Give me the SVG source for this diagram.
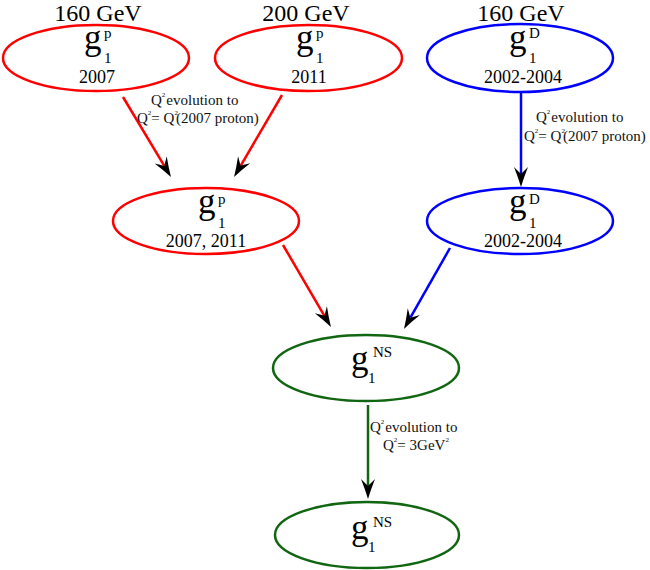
<svg xmlns="http://www.w3.org/2000/svg" width="650" height="570" viewBox="0 0 650 570">
<defs>
<style>
text{font-family:"Liberation Serif","Times New Roman",serif;fill:#000}
.title{font-size:24px;text-anchor:middle}
.g{font-size:35px}
.s{font-size:15px}
.yr{font-size:18px;text-anchor:middle}
.lab{font-size:15px;fill:#111}
.sq{font-size:7px}
ellipse{fill:#fff;stroke-width:2.5}
.red{stroke:#ff0000}
.blue{stroke:#0000ff}
.green{stroke:#116611}
line{stroke-width:2.5}
</style>
<marker id="ah" viewBox="0 -8 21 16" refX="7" refY="0" markerWidth="21" markerHeight="16" markerUnits="userSpaceOnUse" orient="auto">
<path d="M20,0 Q10,-3 0,-7 Q4,-3 7,0 Q4,3 0,7 Q10,3 20,0 Z" fill="#000"/>
</marker>
</defs>
<rect width="650" height="570" fill="#fff"/>

<g id="connectors">
<line class="red" x1="123" y1="97" x2="164.3" y2="165.9" marker-end="url(#ah)"/>
<line class="red" x1="282" y1="95" x2="240.6" y2="165.8" marker-end="url(#ah)"/>
<line class="blue" x1="521" y1="93" x2="521" y2="174" marker-end="url(#ah)"/>
<line class="red" x1="283" y1="245" x2="324.4" y2="315.8" marker-end="url(#ah)"/>
<line class="blue" x1="450" y1="248" x2="410.4" y2="317.7" marker-end="url(#ah)"/>
<line class="green" x1="368" y1="405" x2="368" y2="486" marker-end="url(#ah)"/>
<text class="lab" x="151" y="105">Q<tspan class="sq" dy="-8">2</tspan><tspan dx="1" dy="8">evolution to</tspan></text>
<text class="lab" x="137" y="123">Q<tspan class="sq" dy="-8">2</tspan><tspan dy="8">= Q</tspan><tspan class="sq" dy="-8">2</tspan><tspan dx="-2" dy="8">(2007 proton)</tspan></text>
<text class="lab" x="536" y="122">Q<tspan class="sq" dy="-8">2</tspan><tspan dx="1" dy="8">evolution to</tspan></text>
<text class="lab" x="524" y="141">Q<tspan class="sq" dy="-8">2</tspan><tspan dy="8">= Q</tspan><tspan class="sq" dy="-8">2</tspan><tspan dx="-2" dy="8">(2007 proton)</tspan></text>
<text class="lab" x="370" y="432">Q<tspan class="sq" dy="-8">2</tspan><tspan dx="1" dy="8">evolution to</tspan></text>
<text class="lab" x="383" y="450">Q<tspan class="sq" dy="-8">2</tspan><tspan dy="8">= 3GeV</tspan><tspan class="sq" dy="-8">2</tspan></text>
</g>

<g id="node-p2007">
<text class="title" x="98" y="21">160 GeV</text>
<ellipse class="red" cx="96" cy="58" rx="93" ry="33"/>
<text class="g" x="84" y="49">g</text>
<text class="s" x="104" y="38">p</text>
<text class="s" x="104" y="63">1</text>
<text class="yr" x="97" y="83">2007</text>
</g>

<g id="node-p2011">
<text class="title" x="306" y="21">200 GeV</text>
<ellipse class="red" cx="308.5" cy="58" rx="93.5" ry="33"/>
<text class="g" x="296" y="49">g</text>
<text class="s" x="316" y="38">p</text>
<text class="s" x="316" y="63">1</text>
<text class="yr" x="309" y="83">2011</text>
</g>

<g id="node-d2002">
<text class="title" x="521" y="21">160 GeV</text>
<ellipse class="blue" cx="520" cy="58" rx="93" ry="34"/>
<text class="g" x="509" y="49">g</text>
<text class="s" x="529" y="38">D</text>
<text class="s" x="529" y="63">1</text>
<text class="yr" x="523" y="83">2002-2004</text>
</g>

<g id="node-p-comb">
<ellipse class="red" cx="206" cy="221" rx="93" ry="33"/>
<text class="g" x="198" y="213">g</text>
<text class="s" x="218" y="204">p</text>
<text class="s" x="218" y="228">1</text>
<text class="yr" x="206" y="247">2007, 2011</text>
</g>

<g id="node-d-evol">
<ellipse class="blue" cx="520" cy="221" rx="93" ry="33"/>
<text class="g" x="509" y="213">g</text>
<text class="s" x="529" y="204">D</text>
<text class="s" x="529" y="228">1</text>
<text class="yr" x="523" y="247">2002-2004</text>
</g>

<g id="node-ns">
<ellipse class="green" cx="366" cy="368" rx="93" ry="33"/>
<text class="g" x="351" y="370">g</text>
<text class="s" x="373" y="357">NS</text>
<text class="s" x="368" y="383">1</text>
</g>

<g id="node-ns-evol">
<ellipse class="green" cx="367" cy="535" rx="92" ry="33"/>
<text class="g" x="351" y="539">g</text>
<text class="s" x="373" y="527">NS</text>
<text class="s" x="368" y="552">1</text>
</g>
</svg>
